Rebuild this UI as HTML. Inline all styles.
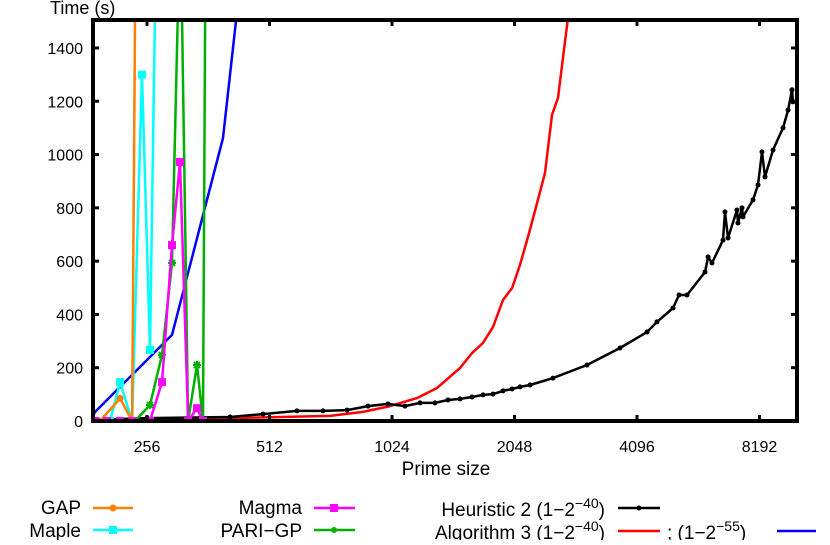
<!DOCTYPE html>
<html><head><meta charset="utf-8"><style>
body{margin:0;background:#fff;}
#chart text{font-family:"Liberation Sans",sans-serif;font-size:16px;fill:#000;}
</style></head><body>
<svg id="chart" width="830" height="540" xmlns="http://www.w3.org/2000/svg">
<defs><clipPath id="plotclip"><rect x="93" y="20" width="704" height="401"/></clipPath></defs>
<g id="grid"></g>
<g id="series" clip-path="url(#plotclip)"></g>
<rect x="93" y="20" width="704" height="401" fill="none" stroke="#000" stroke-width="4"/>
<g id="axes"></g>
<text x="50" y="14" style="font-size:18px">Time (s)</text>
<text x="446" y="475" text-anchor="middle" style="font-size:19px">Prime size</text>
<g id="legend"></g>
</svg>
<script>
const xTicks=[256,512,1024,2048,4096,8192];
const yTicks=[0,200,400,600,800,1000,1200,1400];
const gapLog2Size=[7.616,7.780,7.878,7.91];
const gapTime=[0,85,0,2000];
const mapleLog2Size=[7.559,7.698,7.780,7.878,7.959,8.024,8.08];
const mapleTime=[0,0,146,0,1300,267,2000];
const magmaLog2Size=[7.576,7.673,7.780,7.878,8.024,8.122,8.204,8.269,8.335,8.408,8.457];
const magmaTime=[0,0,0,0,0,146,660,972,0,48,0];
const pariLog2Size=[7.902,8.024,8.122,8.204,8.26,8.28,8.335,8.408,8.457,8.48];
const pariTime=[0,60,248,593,1700,1700,0,210,0,2000];
const blueLog2Size=[7.56,7.576,8.204,8.620,8.75];
const blueTime=[20,34,323,1062,1600];
const redLog2Size=[8.024,8.678,9.494,9.763,9.984,10.204,10.367,10.555,10.653,10.743,10.824,10.906,10.980,11.045,11.110,11.184,11.249,11.306,11.355,11.429,11.453];
const redTime=[0,11,19,34,56,86,124,199,255,293,353,454,499,586,691,818,931,1149,1213,1487,1580];
const heurLog2Size=[7.559,8.0,8.678,8.947,9.224,9.437,9.633,9.804,9.967,10.106,10.229,10.351,10.457,10.555,10.653,10.743,10.824,10.906,10.980,11.045,11.127,11.314,11.592,11.861,12.082,12.163,12.294,12.343,12.408,12.555,12.580,12.612,12.702,12.718,12.743,12.816,12.824,12.857,12.865,12.947,12.988,13.020,13.045,13.110,13.192,13.233,13.265,13.273];
const heurTime=[4,11,15,26,38,38,41,56,64,56,68,68,79,83,90,98,101,113,120,128,135,161,210,274,334,372,424,473,473,559,616,593,679,785,687,792,743,800,766,830,886,1010,916,1017,1100,1167,1243,1198];

const NS="http://www.w3.org/2000/svg";
const X0=93,X1=797,Y0=421,Y1=20,L0=7.559,L1=13.306,YMAX=1505;
function xs(l){return X0+(l-L0)/(L1-L0)*(X1-X0);}
function xv(v){return xs(Math.log2(v));}
function ys(v){return Y0-v/YMAX*(Y0-Y1);}
function mk(tag,attrs,parent){const e=document.createElementNS(NS,tag);for(const k in attrs)e.setAttribute(k,attrs[k]);parent.appendChild(e);return e;}
const axes=document.getElementById('axes');
xTicks.forEach(t=>{
  const x=xv(t);
  const a=mk('line',{x1:x,x2:x,y1:Y0,y2:Y0-6,stroke:'#000','stroke-width':3},axes);
  
  
  const b=mk('line',{x1:x,x2:x,y1:Y1,y2:Y1+6,stroke:'#000','stroke-width':3},axes);
  
  
  const tx=mk('text',{x:x,y:452,'text-anchor':'middle'},axes);tx.textContent=t;
  
  
});
yTicks.forEach(t=>{
  const y=ys(t);
  const a=mk('line',{x1:X0,x2:X0+6,y1:y,y2:y,stroke:'#000','stroke-width':3},axes);
  
  
  const b=mk('line',{x1:X1,x2:X1-6,y1:y,y2:y,stroke:'#000','stroke-width':3},axes);
  
  
  const tx=mk('text',{x:83,y:y+6,'text-anchor':'end'},axes);tx.textContent=t;
  
  
});
const sg=document.getElementById('series');
function marker(g,type,x,y,color){
  if(type==='circle'){return mk('circle',{cx:x,cy:y,r:3.5,fill:color},g);}
  if(type==='square'){return mk('rect',{x:x-4,y:y-4,width:8,height:8,fill:color},g);}
  if(type==='star'){return mk('path',{d:`M${x-4},${y}H${x+4}M${x},${y-4}V${y+4}M${x-3},${y-3}L${x+3},${y+3}M${x-3},${y+3}L${x+3},${y-3}`,stroke:color,'stroke-width':2},g);}
  if(type==='dot'){return mk('circle',{cx:x,cy:y,r:2.5,fill:color},g);}
}
function series(name,L,V,color,w,mtype){
  const g=mk('g',{},sg);
  
  
  const pts=L.map((l,i)=>xs(l).toFixed(1)+','+ys(V[i]).toFixed(1)).join(' ');
  const p=mk('polyline',{points:pts,fill:'none',stroke:color,'stroke-width':w,'stroke-linejoin':'round'},g);
  
  
  if(mtype)L.forEach((l,i)=>{if(V[i]<=1500){const m=marker(g,mtype,xs(l),ys(V[i]),color);
    
    }});
}
series('blue-series',blueLog2Size,blueTime,'#0000ff',2.5,null);
series('algorithm3-series',redLog2Size,redTime,'#ff0000',2.5,null);
series('heuristic2-series',heurLog2Size,heurTime,'#000000',2.5,'dot');
series('maple-series',mapleLog2Size,mapleTime,'#00ffff',2.5,'square');
series('gap-series',gapLog2Size,gapTime,'#ff8000',2.5,'circle');
series('pari-series',pariLog2Size,pariTime,'#00b000',2.5,'star');
series('magma-series',magmaLog2Size,magmaTime,'#ff00ff',2.5,'square');
</script>
<svg style="position:absolute;left:0;top:0" width="830" height="540">
<g font-family="Liberation Sans, sans-serif" font-size="19">
<text x="81" y="514" text-anchor="end">GAP</text>
<line x1="93" x2="133" y1="508" y2="508" stroke="#ff8000" stroke-width="2.5"/><circle cx="113" cy="508" r="3.5" fill="#ff8000"/>
<text x="81" y="537" text-anchor="end">Maple</text>
<line x1="93" x2="133" y1="530" y2="530" stroke="#00ffff" stroke-width="2.5"/><rect x="109" y="526" width="8" height="8" fill="#00ffff"/>
<text x="302" y="514" text-anchor="end">Magma</text>
<line x1="314" x2="355" y1="508" y2="508" stroke="#ff00ff" stroke-width="2.5"/><rect x="330" y="504" width="8" height="8" fill="#ff00ff"/>
<text x="302" y="537" text-anchor="end">PARI−GP</text>
<line x1="314" x2="355" y1="530" y2="530" stroke="#00b000" stroke-width="2.5"/><circle cx="334" cy="530" r="3" fill="#00b000"/>
<text x="605" y="516" text-anchor="end">Heuristic 2 (1−2<tspan dy="-8" font-size="14">−40</tspan><tspan dy="8">)</tspan></text>
<line x1="618" x2="660" y1="508" y2="508" stroke="#000" stroke-width="2.5"/><circle cx="639" cy="508" r="2.5" fill="#000"/>
<text x="605" y="539" text-anchor="end">Algorithm 3 (1−2<tspan dy="-8" font-size="14">−40</tspan><tspan dy="8">)</tspan></text>
<line x1="618" x2="660" y1="531" y2="531" stroke="#ff0000" stroke-width="2.5"/>
<text x="667" y="539">; (1−2<tspan dy="-8" font-size="14">−55</tspan><tspan dy="8">)</tspan></text>
<line x1="777" x2="816" y1="531" y2="531" stroke="#0000ff" stroke-width="2.5"/>
</g></svg>
</body></html>
